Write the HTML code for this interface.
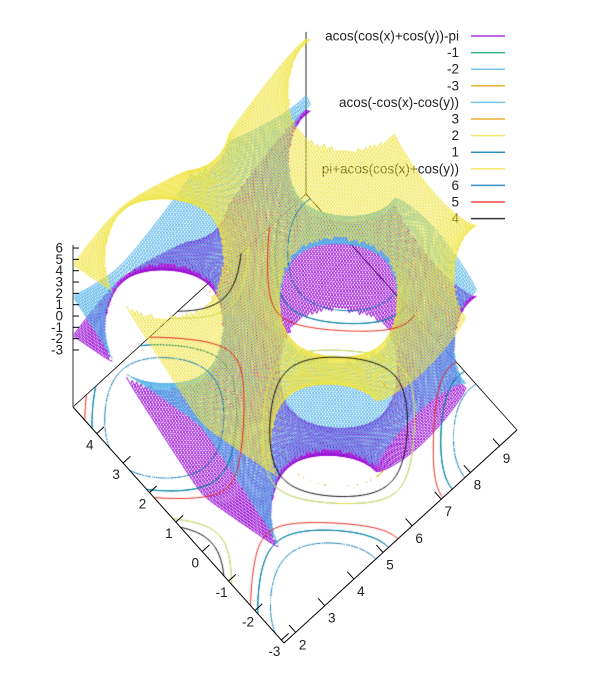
<!DOCTYPE html>
<html><head><meta charset="utf-8">
<style>
html,body{margin:0;padding:0;background:#fff;}
#wrap{position:relative;width:591px;height:688px;overflow:hidden;font-family:"Liberation Sans","DejaVu Sans",sans-serif;}
svg,canvas{position:absolute;left:0;top:0;}
text{font-family:"Liberation Sans","DejaVu Sans",sans-serif;font-size:13.5px;fill:#222;}
</style></head>
<body>
<div id="wrap">
<svg id="under" width="591" height="688"></svg>
<canvas id="cv" width="591" height="688"></canvas>
<svg id="over" width="591" height="688"></svg>
</div>
<script>
// ---- data ----
const xRange = [1.6, 9.6];
const yRange = [-3.1, 4.9];
const zRange = [-8.03, 6.28];
const xTicks = [2,3,4,5,6,7,8,9];
const yTicks = [-3,-2,-1,0,1,2,3,4];
const zTicks = [-3,-2,-1,0,1,2,3,4,5,6];
const seriesNames = ["acos(cos(x)+cos(y))-pi","acos(-cos(x)-cos(y))","pi+acos(cos(x)+cos(y))"];
const seriesColors = ["#9400d3","#56b4e9","#f0e442"];
const levels1 = [-1,-2,-3];
const levels2 = [3,2,1];
const levels3 = [6,5,4];
const levelColors1 = ["#009e73","#56b4e9","#e69f00"];
const levelColors2 = ["#e69f00","#f0e442","#0072b2"];
const levelColors3 = ["#0072b2","#e51e10","#000000"];

const fns = [
  (x,y)=>{const c=Math.cos(x)+Math.cos(y);return Math.abs(c)>1?NaN:Math.acos(c)-Math.PI;},
  (x,y)=>{const c=-Math.cos(x)-Math.cos(y);return Math.abs(c)>1?NaN:Math.acos(c);},
  (x,y)=>{const c=Math.cos(x)+Math.cos(y);return Math.abs(c)>1?NaN:Math.PI+Math.acos(c);}
];

// ---- projection ----
const O=[284,643], EX=[233,-213], EY=[-211,-236], ZS=11.33;
function proj(x,y,z){
  const u=(x-xRange[0])/(xRange[1]-xRange[0]);
  const v=(y-yRange[0])/(yRange[1]-yRange[0]);
  return [O[0]+u*EX[0]+v*EY[0], O[1]+u*EX[1]+v*EY[1]-(z-zRange[0])*ZS];
}
const NS="http://www.w3.org/2000/svg";
function mk(parent,tag,attrs,name){
  const e=document.createElementNS(NS,tag);
  for(const k in attrs)e.setAttribute(k,attrs[k]);
  
  
  parent.appendChild(e);return e;
}
const under=document.getElementById('under'), over=document.getElementById('over');

const L=proj(xRange[0],yRange[1],zRange[0]), B=proj(xRange[0],yRange[0],zRange[0]);
const R=proj(xRange[1],yRange[0],zRange[0]), T=proj(xRange[1],yRange[1],zRange[0]);
mk(under,'line',{x1:L[0],y1:L[1],x2:T[0],y2:T[1],stroke:'#000','stroke-width':0.8},'back-edge-left');
mk(under,'line',{x1:T[0],y1:T[1],x2:R[0],y2:R[1],stroke:'#000','stroke-width':0.8},'back-edge-right');
const Ttop=proj(xRange[1],yRange[1],zRange[1]);
mk(under,'line',{x1:T[0],y1:T[1],x2:Ttop[0],y2:Ttop[1],stroke:'#777','stroke-width':1.5},'back-vertical-axis');

const legendLabels=[seriesNames[0],...levels1.map(String),seriesNames[1],...levels2.map(String),seriesNames[2],...levels3.map(String)];
const legendColors=[seriesColors[0],...levelColors1,seriesColors[1],...levelColors2,seriesColors[2],...levelColors3];
legendLabels.forEach((lab,i)=>{
  const y=36+i*16.6;
  const t=mk(under,'text',{x:459,y:y+4.5,'text-anchor':'end'},'legend-label');
  t.textContent=lab;
  mk(under,'line',{x1:471,y1:y,x2:505,y2:y,stroke:legendColors[i],'stroke-width':1.5,opacity:0.8},'legend-sample');
});

const ctx=document.getElementById('cv').getContext('2d');
function drawSurface(f,color){
  const N=150;
  ctx.strokeStyle=color;ctx.lineWidth=1;
  const xs=[],ys=[];
  for(let i=0;i<=N;i++){xs.push(xRange[0]+(xRange[1]-xRange[0])*i/N);ys.push(yRange[0]+(yRange[1]-yRange[0])*i/N);}
  for(let dir=0;dir<2;dir++){
    for(let i=0;i<=N;i++){
      ctx.beginPath();let pen=false;
      for(let j=0;j<=N;j++){
        const x=dir?xs[j]:xs[i], y=dir?ys[i]:ys[j];
        const z=f(x,y);
        if(isNaN(z)){pen=false;continue;}
        const p=proj(x,y,z);
        if(pen)ctx.lineTo(p[0],p[1]);else{ctx.moveTo(p[0],p[1]);pen=true;}
      }
      ctx.stroke();
    }
  }
}
function drawContours(f,levels,colors){
  const N=220;
  const g=[];
  for(let i=0;i<=N;i++){g.push([]);for(let j=0;j<=N;j++){
    g[i].push(f(xRange[0]+(xRange[1]-xRange[0])*i/N, yRange[0]+(yRange[1]-yRange[0])*j/N));}}
  const X=i=>xRange[0]+(xRange[1]-xRange[0])*i/N, Y=j=>yRange[0]+(yRange[1]-yRange[0])*j/N;
  levels.forEach((lv,k)=>{
    ctx.strokeStyle=colors[k];ctx.lineWidth=1;ctx.beginPath();
    for(let i=0;i<N;i++)for(let j=0;j<N;j++){
      const a=g[i][j],b=g[i+1][j],c=g[i+1][j+1],d=g[i][j+1];
      if(isNaN(a)||isNaN(b)||isNaN(c)||isNaN(d))continue;
      const pts=[];
      const edge=(v1,v2,x1,y1,x2,y2)=>{if((v1-lv)*(v2-lv)<0){const t=(lv-v1)/(v2-v1);pts.push([x1+(x2-x1)*t,y1+(y2-y1)*t]);}};
      edge(a,b,X(i),Y(j),X(i+1),Y(j));
      edge(b,c,X(i+1),Y(j),X(i+1),Y(j+1));
      edge(c,d,X(i+1),Y(j+1),X(i),Y(j+1));
      edge(d,a,X(i),Y(j+1),X(i),Y(j));
      for(let m=0;m+1<pts.length;m+=2){
        const p=proj(pts[m][0],pts[m][1],zRange[0]),q=proj(pts[m+1][0],pts[m+1][1],zRange[0]);
        ctx.moveTo(p[0],p[1]);ctx.lineTo(q[0],q[1]);
      }
    }
    ctx.stroke();
  });
}
drawSurface(fns[0],seriesColors[0]);
drawContours(fns[0],levels1,levelColors1);
drawSurface(fns[1],seriesColors[1]);
drawContours(fns[1],levels2,levelColors2);
drawSurface(fns[2],seriesColors[2]);
drawContours(fns[2],levels3,levelColors3);

mk(over,'line',{x1:L[0],y1:L[1],x2:B[0],y2:B[1],stroke:'#000','stroke-width':1},'y-axis-line');
mk(over,'line',{x1:B[0],y1:B[1],x2:R[0],y2:R[1],stroke:'#000','stroke-width':1},'x-axis-line');
const Ltop=proj(xRange[0],yRange[1],zRange[1]);
mk(over,'line',{x1:L[0],y1:L[1],x2:L[0],y2:Ltop[1],stroke:'#777','stroke-width':1.5},'z-axis-line');
xTicks.forEach(v=>{
  const p=proj(v,yRange[0],zRange[0]), q=proj(v,yRange[0]+0.25,zRange[0]);
  mk(over,'line',{x1:p[0],y1:p[1],x2:q[0],y2:q[1],stroke:'#000','stroke-width':1},'x-tick');
  const t=mk(over,'text',{x:p[0]+7,y:p[1]+17,'text-anchor':'middle'},'x-tick-label');t.textContent=v;
});
yTicks.forEach(v=>{
  const p=proj(xRange[0],v,zRange[0]), q=proj(xRange[0]+0.25,v,zRange[0]);
  mk(over,'line',{x1:p[0],y1:p[1],x2:q[0],y2:q[1],stroke:'#000','stroke-width':1},'y-tick');
  const t=mk(over,'text',{x:p[0]-7,y:p[1]+16,'text-anchor':'middle'},'y-tick-label');t.textContent=v;
});
zTicks.forEach(v=>{
  const p=proj(xRange[0],yRange[1],v);
  mk(over,'line',{x1:p[0],y1:p[1],x2:p[0]+6,y2:p[1],stroke:'#000','stroke-width':1},'z-tick');
  const t=mk(over,'text',{x:p[0]-10,y:p[1]+4.5,'text-anchor':'end'},'z-tick-label');t.textContent=v;
});
</script>
</body></html>
